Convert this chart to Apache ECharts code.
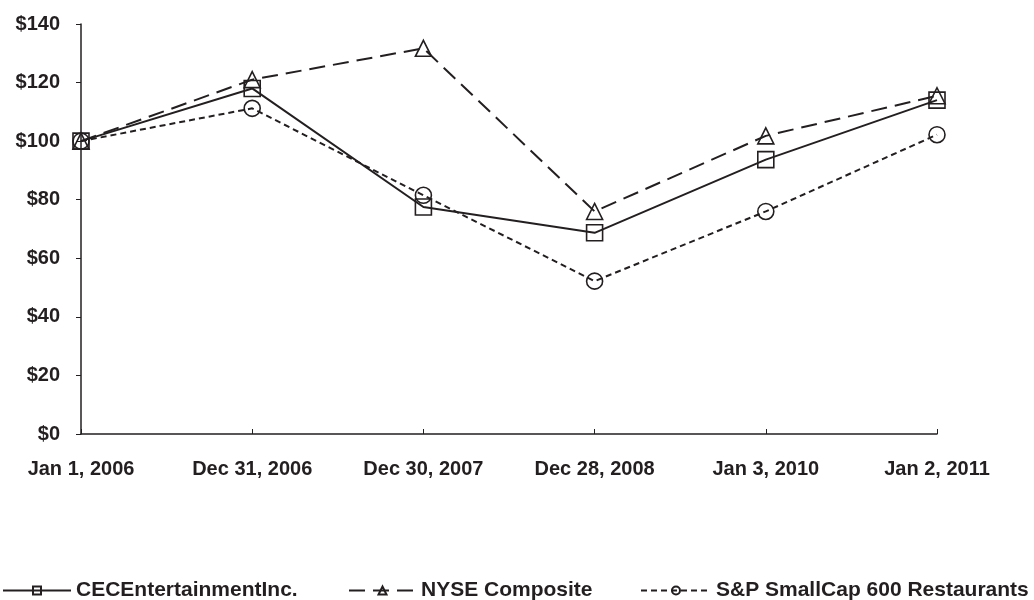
<!DOCTYPE html>
<html><head><meta charset="utf-8">
<script src="https://cdn.jsdelivr.net/npm/echarts@6/dist/echarts.min.js"></script>
<style>html,body{margin:0;padding:0;background:#fff}#c{width:1034px;height:600px}</style>
</head><body><div id="c"></div>
<script>
const categories = ['Jan 1, 2006','Dec 31, 2006','Dec 30, 2007','Dec 28, 2008','Jan 3, 2010','Jan 2, 2011'];
const cecValues = [100, 118, 77.5, 68.7, 93.7, 114];
const nyseValues = [100, 121, 131.7, 76, 101.8, 115.5];
const spValues = [100, 111.2, 81.5, 52.2, 76, 102.2];
const yTicks = [0,20,40,60,80,100,120,140];

const ink = '#231f20';
const font = '"Liberation Sans", Arial, Helvetica, sans-serif';
const chart = echarts.init(document.getElementById('c'));
function mk(name, data, symbol, size, dash){
  return {
    name, type:'line', data, symbol, symbolSize:size, showSymbol:true,
    lineStyle:{color:ink, width:2, type:dash},
    itemStyle:{color:'rgba(0,0,0,0)', borderColor:ink, borderWidth:1.6},
    emphasis:{disabled:true}, animation:false
  };
}
const legendBase = {
  top: 580, itemHeight: 10, padding: 0,
  textStyle:{fontFamily:font, fontWeight:'bold', fontSize:21, color:ink},
  selectedMode:false
};
chart.setOption({
  backgroundColor:'#fff',
  grid:{left:81, right:97, top:24, bottom:166},
  legend:[
    Object.assign({}, legendBase, {left:2, itemWidth:68, data:['CECEntertainmentInc.']}),
    Object.assign({}, legendBase, {left:348, itemWidth:67, data:['NYSE Composite']}),
    Object.assign({}, legendBase, {left:640, itemWidth:70, data:['S&P SmallCap 600 Restaurants']})
  ],
  xAxis:{
    type:'category', data:categories, boundaryGap:false,
    axisLine:{lineStyle:{color:ink, width:1.5}},
    axisTick:{inside:true, length:5, lineStyle:{color:ink, width:1}},
    axisLabel:{margin:25, fontFamily:font, fontWeight:'bold', fontSize:20, color:ink},
    splitLine:{show:false}
  },
  yAxis:{
    type:'value', min:0, max:140, interval:20,
    axisLine:{show:true, lineStyle:{color:ink, width:1.5}},
    axisTick:{show:true, length:5, lineStyle:{color:ink, width:1}},
    axisLabel:{margin:21, fontFamily:font, fontWeight:'bold', fontSize:20, color:ink,
      formatter:v=> yTicks.includes(v) ? '$'+v : ''},
    splitLine:{show:false}
  },
  series:[
    mk('CECEntertainmentInc.', cecValues, 'rect', 16, 'solid'),
    mk('NYSE Composite', nyseValues, 'triangle', 16, [16,8]),
    mk('S&P SmallCap 600 Restaurants', spValues, 'circle', 16, [6,4])
  ]
});
</script></body></html>
